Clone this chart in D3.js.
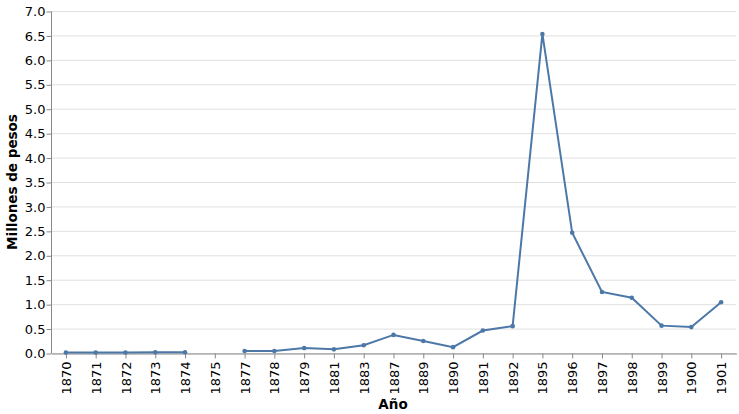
<!DOCTYPE html>
<html>
<head>
<meta charset="UTF-8">
<style>
  body { margin: 0; background: #fff; }
  text { font-family: "DejaVu Sans", Verdana, sans-serif; fill: #000; }
  .grid line { stroke: #e0e0e0; stroke-width: 1px; }
  .axis path, .axis line { stroke: #888; }
</style>
</head>
<body>
<svg id="chart" width="739" height="414"></svg>
<script src="https://d3js.org/d3.v7.min.js"></script>
<script>
// categorias del eje x (años con dato o etiqueta)
const years = ["1870","1871","1872","1873","1874","1875","1877","1878","1879","1881","1883",
               "1887","1889","1890","1891","1892","1895","1896","1897","1898","1899","1900","1901"];
// millones de pesos (null = sin dato)
const values = [0.01, 0.01, 0.01, 0.015, 0.015, null, 0.04, 0.04, 0.1, 0.075, 0.16,
                0.37, 0.245, 0.12, 0.46, 0.55, 6.53, 2.46, 1.25, 1.13, 0.56, 0.53, 1.04];
const yTicks = d3.range(0, 7.01, 0.5);

const data = years.map((y, i) => ({ year: y, value: values[i] }));

const svg = d3.select("#chart");
const margin = { left: 51, right: 3, top: 11, bottom: 61 };
const width = 739, height = 414;

const x = d3.scaleBand()
    .domain(years)
    .range([margin.left, width - margin.right])
    .padding(0);

const y = d3.scaleLinear()
    .domain([0, 7])
    .range([height - margin.bottom, margin.top]);

// gridlines
svg.append("g")
    .attr("class", "grid")
    .selectAll("line")
    .data(yTicks)
    .enter()
    .append("line")
    .attr("x1", margin.left)
    .attr("x2", width - margin.right)
    .attr("y1", d => y(d) + 0.5)
    .attr("y2", d => y(d) + 0.5);

// y axis
const yAxis = svg.append("g")
    .attr("class", "axis")
    .attr("transform", `translate(${margin.left + 0.5},0.5)`)
    .call(d3.axisLeft(y).tickValues(yTicks).tickFormat(d3.format(".1f")).tickSize(5).tickSizeOuter(0));
yAxis.select(".domain").attr("d", `M0,${margin.top}V${height - margin.bottom}`);
yAxis.selectAll("text").attr("font-size", 13).attr("x", -6).style("font-family", "DejaVu Sans");

// x axis
const xAxis = svg.append("g")
    .attr("class", "axis")
    .attr("transform", `translate(0.5,${height - margin.bottom + 0.5})`)
    .call(d3.axisBottom(x).tickSize(5).tickSizeOuter(0));
xAxis.selectAll("text")
    .attr("font-size", 13)
    .style("font-family", "DejaVu Sans")
    .attr("transform", "rotate(-90)")
    .attr("text-anchor", "end")
    .attr("x", -8)
    .attr("y", 0)
    .attr("dy", "0.35em");

// titles
svg.append("text")
    .attr("x", 393)
    .attr("y", 409)
    .attr("text-anchor", "middle")
    .attr("font-size", 13.5)
    .attr("font-weight", "bold")
    .text("Año");

svg.append("text")
    .attr("transform", `translate(17,${(margin.top + height - margin.bottom) / 2}) rotate(-90)`)
    .attr("text-anchor", "middle")
    .attr("font-size", 13.5)
    .attr("font-weight", "bold")
    .text("Millones de pesos");

// line
const line = d3.line()
    .defined(d => d.value != null)
    .x(d => x(d.year) + x.bandwidth() / 2)
    .y(d => y(d.value));

svg.append("path")
    .datum(data)
    .attr("d", line)
    .attr("fill", "none")
    .attr("stroke", "#4c78a8")
    .attr("stroke-width", 2);

svg.append("g")
    .selectAll("circle")
    .data(data.filter(d => d.value != null))
    .enter()
    .append("circle")
    .attr("cx", d => x(d.year) + x.bandwidth() / 2)
    .attr("cy", d => y(d.value))
    .attr("r", 2.3)
    .attr("fill", "#4c78a8");
</script>
</body>
</html>
